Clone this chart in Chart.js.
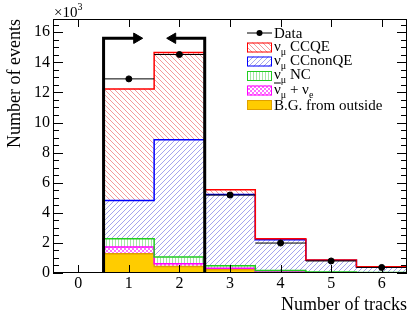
<!DOCTYPE html>
<html>
<head>
<meta charset="utf-8">
<script src="https://cdn.jsdelivr.net/npm/chart.js@4.4.0/dist/chart.umd.min.js"></script>
<style>
  body { margin: 0; background: #fff; }
</style>
</head>
<body>
<canvas id="myTrackChart" width="414" height="315"></canvas>
<script>
// number of tracks, events in units of 10^3
var trackBins = [0, 1, 2, 3, 4, 5, 6];
var yTickLabels = [0, 2, 4, 6, 8, 10, 12, 14, 16];
var bgOutside = [0, 1.28, 0.44, 0.22, 0.04, 0.01, 0.005];
var antiNuE = [0, 0.45, 0.18, 0.09, 0.03, 0.01, 0.005];
var numuNC = [0, 0.55, 0.44, 0.17, 0.09, 0.05, 0.02];
var numuCCnonQE = [0, 2.54, 7.79, 4.74, 2.05, 0.77, 0.37];
var numuCCQE = [0, 7.40, 5.80, 0.31, 0.07, 0.02, 0.01];
var dataEvents = [0, 12.9, 14.52, 5.18, 1.99, 0.80, 0.37];
// selected sample (1 and 2 tracks) marker
var cutEdges = [0.5, 2.5];
var cutHeight = 15.6;
var arrowHeads = [1.155, 1.867];

var FONT = "'Liberation Serif', 'DejaVu Serif', serif";

function addArr(a, b) {
  return a.map(function (v, i) { return v + b[i]; });
}
var top1 = bgOutside;
var top2 = addArr(top1, antiNuE);
var top3 = addArr(top2, numuNC);
var top4 = addArr(top3, numuCCnonQE);
var top5 = addArr(top4, numuCCQE);
var zeros = trackBins.map(function () { return 0; });

//hatch patterns like ROOT fill styles
function makeHatch(color, kind) {
  var c = document.createElement("canvas");
  var s = kind === "vert" ? 3 : (kind === "dots" ? 4 : 5);
  c.width = s; c.height = s;
  var g = c.getContext("2d");
  g.fillStyle = "#fff";
  g.fillRect(0, 0, s, s);
  g.strokeStyle = color;
  g.fillStyle = color;
  g.lineWidth = 1;
  if (kind === "back") {
    g.beginPath();
    g.moveTo(-1, -1); g.lineTo(s + 1, s + 1);
    g.moveTo(-1, s - 1); g.lineTo(1, s + 1);
    g.moveTo(s - 1, -1); g.lineTo(s + 1, 1);
    g.stroke();
  } else if (kind === "fwd") {
    g.beginPath();
    g.moveTo(-1, s + 1); g.lineTo(s + 1, -1);
    g.moveTo(-1, 1); g.lineTo(1, -1);
    g.moveTo(s - 1, s + 1); g.lineTo(s + 1, s - 1);
    g.stroke();
  } else if (kind === "vert") {
    g.fillRect(1, 0, 1, s);
  } else if (kind === "dots") {
    g.fillRect(0, 0, 2, 2);
    g.fillRect(2, 2, 2, 2);
  } else {
    g.fillRect(0, 0, s, s);
  }
  return g.createPattern(c, "repeat");
}

var comps = [
  { name: "CCQE", low: top4, high: top5, line: "#ff0000", fill: makeHatch("#f49a9a", "back") },
  { name: "CCnonQE", low: top3, high: top4, line: "#0000ff", fill: makeHatch("#a4a4ee", "fwd") },
  { name: "NC", low: top2, high: top3, line: "#22cc22", fill: makeHatch("#a6e6a6", "vert") },
  { name: "anti", low: top1, high: top2, line: "#ff00ff", fill: makeHatch("#ff70ff", "dots") },
  { name: "BG", low: zeros, high: top1, line: "#e0a000", fill: makeHatch("#ffcc00", "solid") }
];

function stepLine(tops) {
  var pts = [];
  trackBins.forEach(function (b, i) {
    pts.push({ x: b - 0.5, y: tops[i] });
    pts.push({ x: b + 0.5, y: tops[i] });
  });
  return pts;
}

var datasets = [];
comps.forEach(function (c) {
  datasets.push({
    type: "bar",
    data: trackBins.map(function (b, i) { return { x: b, y: [c.low[i], c.high[i]] }; }),
    backgroundColor: c.fill,
    borderWidth: 0,
    grouped: false,
    barPercentage: 1,
    categoryPercentage: 1,
    order: 10
  });
});
comps.forEach(function (c) {
  datasets.push({
    type: "line",
    data: stepLine(c.high),
    borderColor: c.line,
    borderWidth: 1.5,
    pointRadius: 0,
    tension: 0,
    fill: false,
    order: 5
  });
});
// selection box with arrows
cutEdges.forEach(function (e, k) {
  datasets.push({
    type: "line",
    data: [{ x: e, y: 0 }, { x: e, y: cutHeight }, { x: arrowHeads[k], y: cutHeight }],
    borderColor: "#000",
    borderWidth: 3,
    pointRadius: 0,
    tension: 0,
    fill: false,
    order: 2
  });
});
datasets.push({
  type: "line",
  data: arrowHeads.map(function (a) { return { x: a, y: cutHeight }; }),
  showLine: false,
  pointStyle: "triangle",
  rotation: [90, 270],
  pointRadius: 6,
  pointBackgroundColor: "#000",
  pointBorderColor: "#000",
  pointBorderWidth: 1,
  order: 2
});
// data points with bin-width bars
var dataBars = [];
var dataPts = [];
trackBins.forEach(function (b, i) {
  if (dataEvents[i] <= 0) return;
  dataBars.push({ x: b - 0.5, y: dataEvents[i] });
  dataBars.push({ x: b + 0.5, y: dataEvents[i] });
  dataBars.push({ x: b + 0.5, y: null });
  dataPts.push({ x: b, y: dataEvents[i] });
});
datasets.push({
  type: "line",
  data: dataBars,
  borderColor: "#000",
  borderWidth: 1,
  pointRadius: 0,
  spanGaps: false,
  order: 1
});
datasets.push({
  type: "line",
  data: dataPts,
  showLine: false,
  pointRadius: 3,
  pointBackgroundColor: "#000",
  pointBorderColor: "#000",
  order: 1
});

function drawNuMu(ctx, x, y, anti, sub) {
  ctx.font = "15px " + FONT;
  ctx.fillText("\u03bd", x, y);
  var w = ctx.measureText("\u03bd").width;
  if (anti) {
    ctx.fillRect(x, y - 11, w, 1);
  }
  ctx.font = "10px " + FONT;
  ctx.fillText(sub, x + w, y + 4);
  return x + w + ctx.measureText(sub).width;
}

//frame, inside ticks, legend and exponent
var decorations = {
  id: "decorations",
  afterDatasetsDraw: function (chart) {
    var ctx = chart.ctx, a = chart.chartArea;
    var xs = chart.scales.x, ys = chart.scales.y;
    ctx.save();
    ctx.strokeStyle = "#000";
    ctx.lineWidth = 1;
    ctx.strokeRect(a.left + 0.5, a.top + 0.5, a.right - a.left - 1, a.bottom - a.top - 1);
    ctx.beginPath();
    for (var v = 0; v <= ys.max; v += 0.5) {
      var py = Math.round(ys.getPixelForValue(v)) + 0.5;
      var len = (v % 2 === 0) ? 10 : 6;
      ctx.moveTo(a.left, py); ctx.lineTo(a.left + len, py);
      ctx.moveTo(a.right, py); ctx.lineTo(a.right - len, py);
    }
    trackBins.forEach(function (b) {
      var px = Math.round(xs.getPixelForValue(b)) + 0.5;
      ctx.moveTo(px, a.top); ctx.lineTo(px, a.top + 8);
      ctx.moveTo(px, a.bottom); ctx.lineTo(px, a.bottom - 8);
    });
    ctx.stroke();

    // legend
    ctx.fillStyle = "#000";
    ctx.textBaseline = "alphabetic";
    var lx = 247, lw = 25, tx = 274;
    var rows = [33, 47.5, 61.5, 76, 90.5, 105];
    ctx.beginPath();
    ctx.moveTo(lx, rows[0]); ctx.lineTo(lx + lw, rows[0]);
    ctx.stroke();
    ctx.beginPath();
    ctx.arc(lx + lw / 2, rows[0], 3, 0, 2 * Math.PI);
    ctx.fill();
    ctx.font = "15px " + FONT;
    ctx.fillText("Data", tx, rows[0] + 5);
    for (var k = 0; k < comps.length; k++) {
      var c = comps[k];
      var cy = rows[k + 1];
      ctx.fillStyle = c.fill;
      ctx.fillRect(lx, cy - 5, lw, 10);
      ctx.strokeStyle = c.line;
      ctx.strokeRect(lx + 0.5, cy - 4.5, lw - 1, 9);
    }
    ctx.fillStyle = "#000";
    var x1 = drawNuMu(ctx, tx, rows[1] + 3, false, "\u03bc");
    ctx.font = "15px " + FONT;
    ctx.fillText(" CCQE", x1, rows[1] + 3);
    x1 = drawNuMu(ctx, tx, rows[2] + 3, false, "\u03bc");
    ctx.font = "15px " + FONT;
    ctx.fillText(" CCnonQE", x1, rows[2] + 3);
    x1 = drawNuMu(ctx, tx, rows[3] + 3, false, "\u03bc");
    ctx.font = "15px " + FONT;
    ctx.fillText(" NC", x1, rows[3] + 3);
    x1 = drawNuMu(ctx, tx, rows[4] + 3, true, "\u03bc");
    ctx.font = "15px " + FONT;
    ctx.fillText(" + ", x1, rows[4] + 3);
    x1 += ctx.measureText(" + ").width;
    drawNuMu(ctx, x1, rows[4] + 3, false, "e");
    ctx.font = "15px " + FONT;
    ctx.fillText("B.G. from outside", tx, rows[5] + 5);

    // exponent label
    ctx.font = "15px " + FONT;
    ctx.fillText("\u00d710", a.left + 1, a.top - 2);
    var ew = ctx.measureText("\u00d710").width;
    ctx.font = "10px " + FONT;
    ctx.fillText("3", a.left + 1 + ew, a.top - 9);
    ctx.restore();
  }
};

function createTrackChart() {
  var ctx = document.getElementById("myTrackChart");
  var myChart = new Chart(ctx, {
    type: "bar",
    data: { datasets: datasets },
    plugins: [decorations],
    options: {
      responsive: false,
      animation: false,
      devicePixelRatio: 1,
      layout: { padding: { top: 19, right: 7, left: 0, bottom: 0 } },
      plugins: {
        legend: { display: false },
        tooltip: { enabled: false }
      },
      scales: {
        x: {
          type: "linear",
          offset: false,
          min: -0.5,
          max: 6.5,
          grid: { display: false, drawTicks: false },
          border: { display: false },
          afterBuildTicks: function (scale) {
            scale.ticks = trackBins.map(function (b) { return { value: b }; });
          },
          afterFit: function (scale) { scale.height = 42; },
          ticks: {
            color: "#000",
            padding: 1,
            maxRotation: 0,
            font: { family: FONT, size: 16 }
          },
          title: {
            display: true,
            text: "Number of tracks",
            align: "end",
            color: "#000",
            padding: { top: 0, bottom: -1 },
            font: { family: FONT, size: 18 }
          }
        },
        y: {
          type: "linear",
          min: 0,
          max: 16.88,
          grid: { display: false, drawTicks: false },
          border: { display: false },
          afterBuildTicks: function (scale) {
            scale.ticks = yTickLabels.map(function (v) { return { value: v }; });
          },
          afterFit: function (scale) { scale.width = 53; },
          ticks: {
            color: "#000",
            padding: 3,
            font: { family: FONT, size: 16 }
          },
          title: {
            display: true,
            text: "Number of events",
            align: "end",
            color: "#000",
            padding: { top: 4, bottom: 0 },
            font: { family: FONT, size: 18 }
          }
        }
      }
    }
  });
}

createTrackChart();
</script>
</body>
</html>
